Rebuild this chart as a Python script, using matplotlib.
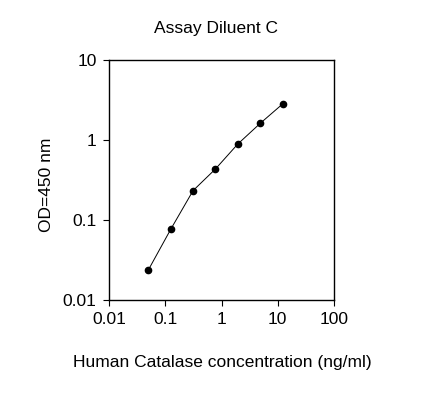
import matplotlib
matplotlib.use("Agg")
from matplotlib import pyplot as plt
from matplotlib.ticker import FixedLocator, FixedFormatter, NullLocator

plt.rcParams['font.family'] = ['Liberation Sans', 'DejaVu Sans']

# standard curve
conc = [0.05, 0.125, 0.3125, 0.78, 1.95, 4.88, 12.2]
od = [0.0237, 0.0764, 0.233, 0.434, 0.891, 1.615, 2.82]

x_ticks = [0.01, 0.1, 1, 10, 100]
x_labels = ['0.01', '0.1', '1', '10', '100']
y_ticks = [0.01, 0.1, 1, 10]
y_labels = ['0.01', '0.1', '1', '10']

fig = plt.figure(figsize=(4.44, 4.05), dpi=100)
ax = fig.add_axes([109 / 444, 1 - 300 / 405, 225 / 444, 240 / 405])

ax.plot(conc, od, color='black', lw=0.7, marker='o', ms=4.5, mfc='black', mec='black')

ax.set_xscale('log')
ax.set_yscale('log')
ax.set_xlim(0.01, 100)
ax.set_ylim(0.01, 10)

ax.xaxis.set_major_locator(FixedLocator(x_ticks))
ax.xaxis.set_major_formatter(FixedFormatter(x_labels))
ax.yaxis.set_major_locator(FixedLocator(y_ticks))
ax.yaxis.set_major_formatter(FixedFormatter(y_labels))
ax.xaxis.set_minor_locator(NullLocator())
ax.yaxis.set_minor_locator(NullLocator())
ax.tick_params(direction='out', length=4, width=0.8, labelsize=12.5, pad=5)

for sp in ax.spines.values():
    sp.set_linewidth(1.0)

fig.text(216 / 444, 1 - 28 / 405, 'Assay Diluent C', ha='center', va='center', fontsize=12.5)
fig.text(222 / 444, 1 - 363 / 405, 'Human Catalase concentration (ng/ml)', ha='center', va='center', fontsize=12.5)
fig.text(46 / 444, 1 - 185 / 405, 'OD=450 nm', ha='center', va='center', rotation=90, fontsize=12.5)

fig.savefig('out.png', dpi=100)
